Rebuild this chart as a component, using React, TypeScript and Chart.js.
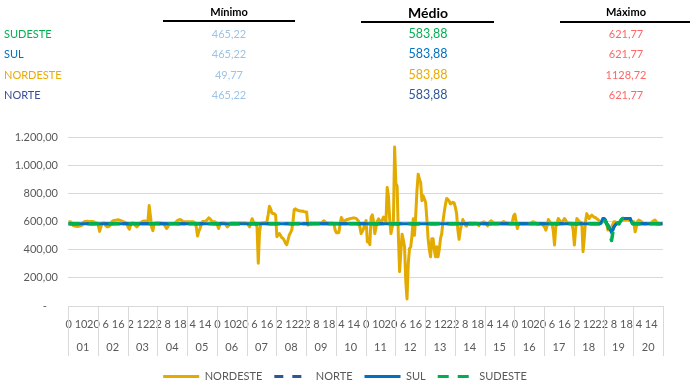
import React, { useEffect, useRef } from 'react';
import { Chart, registerables } from 'chart.js';

Chart.register(...registerables);

const FONT = 'Lato, "Open Sans", sans-serif';
const B = 583.88;

// Category levels: day groups and hours inside each day
const DAYS = ['01', '02', '03', '04', '05', '06', '07', '08', '09', '10', '11', '12', '13', '14', '15', '16', '17', '18', '19', '20'];
const HOURS = ['0', '1', '2', '3', '4', '5', '6', '7', '8', '9', '10', '11', '12', '13', '14', '15', '16', '17', '18', '19', '20', '21', '22', '23'];

// Y axis
const Y_MIN = 0;
const Y_MAX = 1200;
const Y_STEP = 200;

// Series (one row per day, 24 hourly values)
const NORDESTE = [
  598, 598, 595, 580, 570, 568, 566, 565, 566, 568, 570, 575, 595, 600, 600, 602, 600, 598, 600, 600, 598, 595, 590, 588,
  570, 530, 560, 585, 590, 588, 570, 562, 562, 568, 584, 600, 606, 608, 609, 610, 612, 610, 606, 604, 598, 596, 592, 585,
  560, 545, 575, 590, 590, 588, 570, 562, 570, 584, 590, 598, 602, 603, 603, 600, 605, 713, 640, 560, 535, 585, 590, 592,
  592, 590, 590, 588, 584, 580, 565, 550, 562, 580, 584, 584, 584, 586, 590, 600, 608, 612, 614, 610, 600, 598, 598, 598,
  598, 598, 598, 598, 598, 596, 590, 560, 497, 530, 550, 580, 600, 600, 600, 605, 615, 626, 620, 608, 600, 598, 598, 592,
  575, 550, 580, 590, 590, 590, 588, 575, 562, 570, 584, 588, 590, 590, 590, 590, 588, 590, 590, 590, 588, 590, 590, 588,
  585, 575, 562, 590, 620, 600, 590, 588, 560, 304, 520, 585, 590, 590, 592, 590, 600, 650, 708, 690, 660, 656, 655, 645,
  492, 505, 515, 500, 485, 480, 465, 445, 435, 470, 504, 520, 540, 600, 685, 690, 682, 680, 676, 675, 672, 674, 670, 668,
  668, 574, 584, 590, 590, 588, 590, 590, 590, 588, 590, 590, 592, 598, 605, 596, 590, 590, 590, 588, 590, 590, 584, 540,
  520, 520, 522, 580, 628, 612, 600, 606, 612, 614, 618, 620, 622, 624, 624, 624, 622, 612, 600, 560, 514, 530, 549, 590,
  607, 455, 470, 436, 631, 647, 600, 514, 560, 600, 619, 605, 596, 610, 631, 615, 596, 842, 780, 619, 514, 560, 590, 1128.72,
  870, 853, 502, 244, 380, 510, 470, 420, 174, 49.77, 300, 408, 420, 500, 619, 502, 642, 818, 936, 900, 877, 748, 783, 760,
  736, 619, 478, 400, 349, 478, 478, 400, 349, 420, 349, 400, 478, 514, 600, 666, 720, 764, 755, 745, 725, 730, 736, 732,
  700, 656, 540, 473, 539, 580, 614, 595, 575, 567, 584, 590, 590, 590, 588, 590, 590, 588, 584, 569, 584, 590, 594, 598,
  590, 584, 569, 584, 600, 605, 596, 590, 590, 588, 590, 590, 588, 590, 596, 600, 594, 590, 590, 588, 584, 584, 600, 640,
  652, 600, 550, 580, 584, 584, 584, 584, 584, 584, 584, 584, 584, 590, 596, 598, 594, 588, 584, 584, 584, 584, 584, 570,
  560, 539, 570, 614, 600, 590, 584, 530, 433, 560, 590, 621, 610, 598, 595, 605, 621, 610, 590, 590, 590, 588, 584, 540,
  433, 540, 621, 610, 598, 595, 590, 386, 480, 600, 656, 640, 621, 635, 645, 638, 630, 628, 620, 614, 605, 595, 590, 600,
  621, 610, 590, 539, 545, 550, 560, 580, 598, 598, 590, 583, 590, 600, 605, 610, 610, 610, 612, 610, 610, 608, 600, 598,
  598, 527, 560, 600, 610, 605, 600, 590, 584, 584, 584, 584, 584, 584, 590, 600, 605, 610, 600, 590, 584, 584, 584, 584,
];

const SUL = [
  B, B, B, B, B, B, B, B, B, B, B, B, B, B, B, B, B, B, B, B, B, B, B, B,
  B, B, B, B, B, B, B, B, B, B, B, B, B, B, B, B, B, B, B, B, B, B, B, B,
  B, B, B, B, B, B, B, B, B, B, B, B, B, B, B, B, B, B, B, B, B, B, B, B,
  B, B, B, B, B, B, B, B, B, B, B, B, B, B, B, B, B, B, B, B, B, B, B, B,
  B, B, B, B, B, B, B, B, B, B, B, B, B, B, B, B, B, B, B, B, B, B, B, B,
  B, B, B, B, B, B, B, B, B, B, B, B, B, B, B, B, B, B, B, B, B, B, B, B,
  B, B, B, B, B, B, B, B, B, B, B, B, B, B, B, B, B, B, B, B, B, B, B, B,
  B, B, B, B, B, B, B, B, B, B, B, B, B, B, B, B, B, B, B, B, B, B, B, B,
  B, B, B, B, B, B, B, B, B, B, B, B, B, B, B, B, B, B, B, B, B, B, B, B,
  B, B, B, B, B, B, B, B, B, B, B, B, B, B, B, B, B, B, B, B, B, B, B, B,
  B, B, B, B, B, B, B, B, B, B, B, B, B, B, B, B, B, B, B, B, B, B, B, B,
  B, B, B, B, B, B, B, B, B, B, B, B, B, B, B, B, B, B, B, B, B, B, B, B,
  B, B, B, B, B, B, B, B, B, B, B, B, B, B, B, B, B, B, B, B, B, B, B, B,
  B, B, B, B, B, B, B, B, B, B, B, B, B, B, B, B, B, B, B, B, B, B, B, B,
  B, B, B, B, B, B, B, B, B, B, B, B, B, B, B, B, B, B, B, B, B, B, B, B,
  B, B, B, B, B, B, B, B, B, B, B, B, B, B, B, B, B, B, B, B, B, B, B, B,
  B, B, B, B, B, B, B, B, B, B, B, B, B, B, B, B, B, B, B, B, B, B, B, B,
  B, B, B, B, B, B, B, B, B, B, B, B, B, B, B, B, B, B, B, B, B, B, 600, 621.77,
  621.77, 610, B, 575, 560, 540, 520, 540, 562, 575, B, 590, B, 600, 614, 621.77, 621.77, 621.77, 621.77, 621.77, 621.77, 621.77, 600, B,
  B, B, B, B, B, B, B, B, B, B, B, B, B, B, B, B, B, B, B, B, B, B, B, B,
];

const NORTE = [
  B, B, B, B, B, B, B, B, B, B, B, B, B, B, B, B, B, B, B, B, B, B, B, B,
  B, B, B, B, B, B, B, B, B, B, B, B, B, B, B, B, B, B, B, B, B, B, B, B,
  B, B, B, B, B, B, B, B, B, B, B, B, B, B, B, B, B, B, B, B, B, B, B, B,
  B, B, B, B, B, B, B, B, B, B, B, B, B, B, B, B, B, B, B, B, B, B, B, B,
  B, B, B, B, B, B, B, B, B, B, B, B, B, B, B, B, B, B, B, B, B, B, B, B,
  B, B, B, B, B, B, B, B, B, B, B, B, B, B, B, B, B, B, B, B, B, B, B, B,
  B, B, B, B, B, B, B, B, B, B, B, B, B, B, B, B, B, B, B, B, B, B, B, B,
  B, B, B, B, B, B, B, B, B, B, B, B, B, B, B, B, B, B, B, B, B, B, B, B,
  B, B, B, B, B, B, B, B, B, B, B, B, B, B, B, B, B, B, B, B, B, B, B, B,
  B, B, B, B, B, B, B, B, B, B, B, B, B, B, B, B, B, B, B, B, B, B, B, B,
  B, B, B, B, B, B, B, B, B, B, B, B, B, B, B, B, B, B, B, B, B, B, B, B,
  B, B, B, B, B, B, B, B, B, B, B, B, B, B, B, B, B, B, B, B, B, B, B, B,
  B, B, B, B, B, B, B, B, B, B, B, B, B, B, B, B, B, B, B, B, B, B, B, B,
  B, B, B, B, B, B, B, B, B, B, B, B, B, B, B, B, B, B, B, B, B, B, B, B,
  B, B, B, B, B, B, B, B, B, B, B, B, B, B, B, B, B, B, B, B, B, B, B, B,
  B, B, B, B, B, B, B, B, B, B, B, B, B, B, B, B, B, B, B, B, B, B, B, B,
  B, B, B, B, B, B, B, B, B, B, B, B, B, B, B, B, B, B, B, B, B, B, B, B,
  B, B, B, B, B, B, B, B, B, B, B, B, B, B, B, B, B, B, B, B, B, B, 600, 621.77,
  621.77, 610, B, 575, 560, 540, 520, 540, 562, 575, B, 590, B, 600, 614, 621.77, 621.77, 621.77, 621.77, 621.77, 621.77, 621.77, 600, B,
  B, B, B, B, B, B, B, B, B, B, B, B, B, B, B, B, B, B, B, B, B, B, B, B,
];

const SUDESTE = [
  B, B, B, B, B, B, B, B, B, B, B, B, B, B, B, B, B, B, B, B, B, B, B, B,
  B, B, B, B, B, B, B, B, B, B, B, B, B, B, B, B, B, B, B, B, B, B, B, B,
  B, B, B, B, B, B, B, B, B, B, B, B, B, B, B, B, B, B, B, B, B, B, B, B,
  B, B, B, B, B, B, B, B, B, B, B, B, B, B, B, B, B, B, B, B, B, B, B, B,
  B, B, B, B, B, B, B, B, B, B, B, B, B, B, B, B, B, B, B, B, B, B, B, B,
  B, B, B, B, B, B, B, B, B, B, B, B, B, B, B, B, B, B, B, B, B, B, B, B,
  B, B, B, B, B, B, B, B, B, B, B, B, B, B, B, B, B, B, B, B, B, B, B, B,
  B, B, B, B, B, B, B, B, B, B, B, B, B, B, B, B, B, B, B, B, B, B, B, B,
  B, B, B, B, B, B, B, B, B, B, B, B, B, B, B, B, B, B, B, B, B, B, B, B,
  B, B, B, B, B, B, B, B, B, B, B, B, B, B, B, B, B, B, B, B, B, B, B, B,
  B, B, B, B, B, B, B, B, B, B, B, B, B, B, B, B, B, B, B, B, B, B, B, B,
  B, B, B, B, B, B, B, B, B, B, B, B, B, B, B, B, B, B, B, B, B, B, B, B,
  B, B, B, B, B, B, B, B, B, B, B, B, B, B, B, B, B, B, B, B, B, B, B, B,
  B, B, B, B, B, B, B, B, B, B, B, B, B, B, B, B, B, B, B, B, B, B, B, B,
  B, B, B, B, B, B, B, B, B, B, B, B, B, B, B, B, B, B, B, B, B, B, B, B,
  B, B, B, B, B, B, B, B, B, B, B, B, B, B, B, B, B, B, B, B, B, B, B, B,
  B, B, B, B, B, B, B, B, B, B, B, B, B, B, B, B, B, B, B, B, B, B, B, B,
  B, B, B, B, B, B, B, B, B, B, B, B, B, B, B, B, B, B, B, B, B, B, 600, 621.77,
  621.77, 600, B, 570, 540, 500, 465.22, 520, 560, 575, B, 590, B, 600, 614, 621.77, 621.77, 621.77, 621.77, 621.77, 621.77, 621.77, 600, B,
  B, B, B, B, B, B, B, B, B, B, B, B, B, B, B, B, B, B, B, B, B, B, B, B,
];

// Summary table above the chart
const TABLE_REGIONS = ['SUDESTE', 'SUL', 'NORDESTE', 'NORTE'];
const TABLE_MIN = ['465,22', '465,22', '49,77', '465,22'];
const TABLE_AVG = ['583,88', '583,88', '583,88', '583,88'];
const TABLE_MAX = ['621,77', '621,77', '1128,72', '621,77'];

const C_GOLD = '#E3AA00';
const C_NAVY = '#2F5597';
const C_BLUE = '#0070C0';
const C_GREEN = '#00B050';
const REGION_COLORS = [C_GREEN, C_BLUE, '#EBAA00', '#3A4E9C'];
const AVG_COLORS = [C_GREEN, C_BLUE, '#EBAA00', C_NAVY];
const TEXT = '#595959';

function fmtBR(v: number): string {
  if (v === 0) return '-    ';
  const [i, d] = v.toFixed(2).split('.');
  return i.replace(/\B(?=(\d{3})+(?!\d))/g, '.') + ',' + d;
}

const groupSeparators = {
  id: 'groupSeparators',
  afterDraw(chart: any) {
    const x2 = chart.scales.x2;
    const area = chart.chartArea;
    const ctx = chart.ctx;
    const n = DAYS.length;
    ctx.save();
    ctx.strokeStyle = '#D9D9D9';
    ctx.lineWidth = 1;
    for (let k = 0; k <= n; k++) {
      let px: number;
      if (k === 0) px = x2.left;
      else if (k === n) px = x2.right;
      else px = (x2.getPixelForValue(k - 1) + x2.getPixelForValue(k)) / 2;
      px = Math.round(px) + 0.5;
      ctx.beginPath();
      ctx.moveTo(px, area.bottom);
      ctx.lineTo(px, x2.bottom - 3);
      ctx.stroke();
    }
    ctx.restore();
  },
};

export default function App() {
  const ref = useRef<HTMLCanvasElement | null>(null);

  useEffect(() => {
    if (!ref.current) return;
    const labels: string[] = [];
    DAYS.forEach(() => HOURS.forEach((h) => labels.push(h)));

    const common = { pointRadius: 0, pointHoverRadius: 0, pointStyle: 'line', tension: 0, fill: false, borderJoinStyle: 'round' };

    const chart = new Chart(ref.current, {
      type: 'line',
      data: {
        labels,
        datasets: [
          { ...common, label: 'NORDESTE', data: NORDESTE, borderColor: C_GOLD, backgroundColor: C_GOLD, borderWidth: 3, order: 4 },
          { ...common, label: 'NORTE', data: NORTE, borderColor: C_NAVY, backgroundColor: C_NAVY, borderWidth: 3, borderDash: [9, 9], order: 3 },
          { ...common, label: 'SUL', data: SUL, borderColor: C_BLUE, backgroundColor: C_BLUE, borderWidth: 3, order: 2 },
          { ...common, label: 'SUDESTE', data: SUDESTE, borderColor: C_GREEN, backgroundColor: C_GREEN, borderWidth: 3.5, borderDash: [11, 9], order: 1 },
        ] as any,
      },
      options: {
        responsive: false,
        animation: false,
        devicePixelRatio: 1,
        events: [],
        layout: { padding: { top: 137, right: 0, left: 0, bottom: 0 } },
        scales: {
          x: {
            type: 'category',
            offset: true,
            grid: { display: false },
            border: { display: false },
            ticks: {
              autoSkip: false,
              maxRotation: 0,
              minRotation: 0,
              padding: 4,
              color: TEXT,
              font: { family: FONT, size: 11 },
              callback: function (this: any, value: any, index: number) {
                return index % 10 === 0 ? this.getLabelForValue(value) : '';
              },
            },
            afterFit: (s: any) => { s.height = 22; },
          },
          x2: {
            type: 'category',
            position: 'bottom',
            labels: DAYS,
            offset: true,
            grid: { display: false },
            border: { display: false },
            ticks: { autoSkip: false, maxRotation: 0, padding: 5, color: TEXT, font: { family: FONT, size: 11 } },
            afterFit: (s: any) => { s.height = 31; },
          },
          y: {
            min: Y_MIN,
            max: Y_MAX,
            grid: { color: '#D9D9D9', drawTicks: false },
            border: { display: false },
            ticks: {
              stepSize: Y_STEP,
              padding: 10,
              color: TEXT,
              font: { family: FONT, size: 11 },
              callback: (v: any) => fmtBR(Number(v)),
            },
            afterFit: (s: any) => { s.width = 68; },
          },
          yRight: {
            type: 'linear',
            position: 'right',
            display: true,
            min: Y_MIN,
            max: Y_MAX,
            grid: { display: false, drawOnChartArea: false },
            border: { display: false },
            ticks: { display: false },
            afterFit: (s: any) => { s.width = 27; },
          },
        },
        plugins: {
          tooltip: { enabled: false },
          legend: {
            position: 'bottom',
            labels: {
              usePointStyle: true,
              pointStyleWidth: 36,
              padding: 12,
              color: TEXT,
              font: { family: FONT, size: 11 },
              sort: (a: any, b: any) => a.datasetIndex - b.datasetIndex,
              generateLabels: (chart: any) => {
                const items = (Chart.defaults as any).plugins.legend.labels.generateLabels(chart);
                return items.map((it: any) => {
                  const ds = chart.data.datasets[it.datasetIndex];
                  return { ...it, lineDash: ds.borderDash || [], lineWidth: 3, strokeStyle: ds.borderColor, pointStyle: 'line' };
                });
              },
            },
          },
        },
      } as any,
      plugins: [groupSeparators],
    });
    return () => chart.destroy();
  }, []);

  const cell = (text: string, cx: number, cy: number, color: string, size: number, bold = false) => (
    <div
      key={text + cx + cy}
      style={{
        position: 'absolute',
        left: cx,
        top: cy,
        transform: 'translate(-50%, -50%)',
        whiteSpace: 'nowrap',
        fontFamily: FONT,
        fontSize: size,
        lineHeight: 1,
        fontWeight: bold ? 700 : 400,
        color,
      }}
    >
      {text}
    </div>
  );

  const rowsY = [33, 53, 74, 94];

  return (
    <div style={{ position: 'relative', width: 690, height: 392, overflow: 'hidden', background: '#fff' }}>
      <style>{'body{margin:0}'}</style>
      <canvas ref={ref} width={690} height={392} style={{ position: 'absolute', left: 0, top: 0, display: 'block' }} />
      {cell('Mínimo', 229, 11, '#000', 11, true)}
      {cell('Médio', 428, 13, '#000', 14, true)}
      {cell('Máximo', 626, 11, '#000', 11, true)}
      <div style={{ position: 'absolute', left: 163, top: 20, width: 132, height: 2, background: '#000' }} />
      <div style={{ position: 'absolute', left: 361, top: 21, width: 133, height: 2, background: '#000' }} />
      <div style={{ position: 'absolute', left: 560, top: 21, width: 130, height: 2, background: '#000' }} />
      {TABLE_REGIONS.map((r, i) => (
        <div
          key={r}
          style={{ position: 'absolute', left: 4, top: rowsY[i], transform: 'translateY(-50%)', fontFamily: FONT, fontSize: 11, lineHeight: 1, color: REGION_COLORS[i], whiteSpace: 'nowrap' }}
        >
          {r}
        </div>
      ))}
      {TABLE_MIN.map((v, i) => cell(v, 229, rowsY[i], '#9DC3E6', 11))}
      {TABLE_AVG.map((v, i) => cell(v, 428, rowsY[i] + 1, AVG_COLORS[i], 12.5))}
      {TABLE_MAX.map((v, i) => cell(v, 626, rowsY[i], '#FF6666', 11))}
    </div>
  );
}
